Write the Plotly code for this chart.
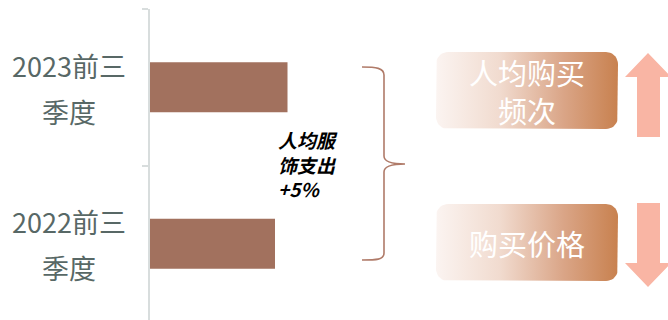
import numpy as np
import plotly.graph_objects as go

# ---- data ----
categories = ["2022前三季度", "2023前三季度"]
spend_index = [100, 110]
growth_note = "人均服<br>饰支出<br>+5%"
factor_labels = ["人均购买<br>频次", "购买价格"]
factor_directions = ["up", "down"]

FONT = "Noto Sans CJK SC, Noto Sans, sans-serif"
BAR_COLOR = "#a2715e"
LABEL_COLOR = "#586866"
AXIS_COLOR = "#d8dddd"
ARROW_COLOR = "#f9b5a4"
BRACE_COLOR = "#b07b69"

W, H = 668, 320
ML, MT = 150, 9
PW = W - ML

fig = go.Figure()

fig.add_trace(go.Bar(
    x=spend_index, y=categories, orientation="h",
    marker=dict(color=BAR_COLOR, line=dict(width=0)),
    width=0.32, showlegend=False, hoverinfo="skip",
))

# ---- decorative layer in pixel coordinates (x2/y2) ----
def rounded_rect(x0, y0, x1, y1, r, n=10):
    pts = []
    corners = [
        (x1 - r, y0 + r, -np.pi / 2, 0),
        (x1 - r, y1 - r, 0, np.pi / 2),
        (x0 + r, y1 - r, np.pi / 2, np.pi),
        (x0 + r, y0 + r, np.pi, 1.5 * np.pi),
    ]
    for cx, cy, a0, a1 in corners:
        t = np.linspace(a0, a1, n)
        for a in t:
            pts.append((cx + r * np.cos(a), cy + r * np.sin(a)))
    pts.append(pts[0])
    xs, ys = zip(*pts)
    return list(xs), list(ys)

boxes = [(436, 52, 618, 129), (436, 204, 618, 281)]
grad = [[0, "#fbf4f1"], [0.35, "#f1dbcf"], [0.7, "#daa587"], [1, "#c8814f"]]
for (x0, y0, x1, y1), lab in zip(boxes, factor_labels):
    xs, ys = rounded_rect(x0, y0, x1, y1, 12)
    fig.add_trace(go.Scatter(
        x=xs, y=ys, xaxis="x2", yaxis="y2", mode="lines",
        line=dict(width=0), fill="toself",
        fillgradient=dict(type="horizontal", colorscale=grad),
        showlegend=False, hoverinfo="skip",
    ))
    lines = lab.split("<br>")
    step = 38
    cy = (y0 + y1) / 2
    first = cy - step * (len(lines) - 1) / 2
    for i, ln in enumerate(lines):
        fig.add_annotation(
            x=(x0 + x1) / 2, y=first + i * step, xref="x2", yref="y2",
            text=ln, showarrow=False, xanchor="center", yanchor="middle",
            font=dict(family=FONT, size=29, color="#ffffff"),
        )

shapes = []
# arrows
for d in factor_directions:
    if d == "up":
        path = "M 625,77 L 648,53 L 671,77 L 660,77 L 660,137 L 637,137 L 637,77 Z"
    else:
        path = "M 637,203 L 660,203 L 660,263 L 671,263 L 648,287 L 625,263 L 637,263 Z"
    shapes.append(dict(type="path", xref="x2", yref="y2", path=path,
                       fillcolor=ARROW_COLOR, line=dict(width=0)))

# brace
brace = ("M 362,67 C 376,67 384,68 384,75 L 384,156 C 384,161 391,164 405,164 "
         "C 391,164 384,167 384,172 L 384,253 C 384,260 376,260 362,260")
shapes.append(dict(type="path", xref="x2", yref="y2", path=brace,
                   line=dict(color=BRACE_COLOR, width=1.6)))

# category labels (two lines each), placed left of the plot area
label_x = (69 - ML) / PW
for cat in categories:
    fig.add_annotation(x=label_x, xref="paper", y=cat, yref="y", text=cat[:-2],
                       showarrow=False, xanchor="center", yanchor="middle",
                       yshift=22, font=dict(family=FONT, size=27, color=LABEL_COLOR))
    fig.add_annotation(x=label_x, xref="paper", y=cat, yref="y", text=cat[-2:],
                       showarrow=False, xanchor="center", yanchor="middle",
                       yshift=-24, font=dict(family=FONT, size=27, color=LABEL_COLOR))

fig.add_annotation(x=276, y=164, xref="x2", yref="y2", text=growth_note,
                   showarrow=False, xanchor="left", yanchor="middle", align="left",
                   font=dict(family=FONT, size=19, color="#000000",
                             weight="bold", style="italic"))

fig.update_layout(
    width=W, height=H,
    margin=dict(l=ML, r=0, t=MT, b=0),
    paper_bgcolor="white", plot_bgcolor="white",
    shapes=shapes,
    xaxis=dict(range=[0, 414.4], visible=False, fixedrange=True),
    yaxis=dict(type="category", categoryorder="array", categoryarray=categories,
               range=[-0.487, 1.5], tickson="boundaries", ticks="outside",
               ticklen=6, tickwidth=2, tickcolor=AXIS_COLOR,
               showline=True, linecolor=AXIS_COLOR, linewidth=2,
               showticklabels=False, showgrid=False, zeroline=False),
    xaxis2=dict(overlaying="x", range=[ML, W], visible=False, fixedrange=True),
    yaxis2=dict(overlaying="y", range=[H, MT], visible=False, fixedrange=True),
)

fig.write_html("out.html")
